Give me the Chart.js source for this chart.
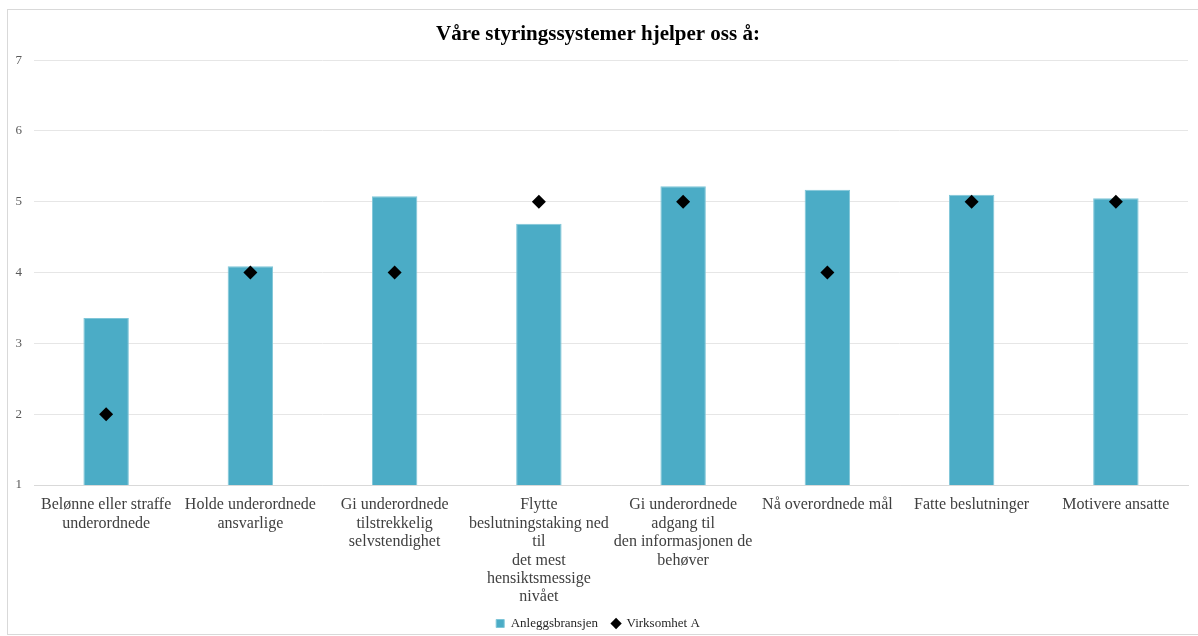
<!DOCTYPE html>
<html>
<head>
<meta charset="utf-8">
<script src="https://cdn.jsdelivr.net/npm/chart.js@4"></script>
<style>
  html, body { margin: 0; padding: 0; background: #fff; overflow: hidden; }
  #frame { position: absolute; left: 7px; top: 9px; width: 1195px; height: 626px; border: 1px solid #d9d9d9; border-right: none; box-sizing: border-box; }
  #wrap { position: absolute; left: 0; top: 0; width: 1192px; height: 630px; }
</style>
</head>
<body>
<div id="frame"><div id="wrap"><canvas id="c"></canvas></div></div>
<script>
const categories = [
  ["Belønne eller straffe", "underordnede"],
  ["Holde underordnede", "ansvarlige"],
  ["Gi underordnede", "tilstrekkelig", "selvstendighet"],
  ["Flytte", "beslutningstaking ned", "til", "det mest", "hensiktsmessige", "nivået"],
  ["Gi underordnede", "adgang til", "den informasjonen de", "behøver"],
  ["Nå overordnede mål"],
  ["Fatte beslutninger"],
  ["Motivere ansatte"]
];
const anleggsbransjen = [3.36, 4.09, 5.08, 4.69, 5.22, 5.17, 5.10, 5.05];
const virksomhetA = [2, 4, 4, 5, 5, 4, 5, 5];
const yTicks = [1, 2, 3, 4, 5, 6, 7];
const titleText = "Våre styringssystemer hjelper oss å:";
const seriesNames = ["Anleggsbransjen", "Virksomhet A"];

const serif = "'Liberation Serif', 'Times New Roman', serif";

new Chart(document.getElementById('c'), {
  type: 'bar',
  data: {
    labels: categories,
    datasets: [
      {
        type: 'bar',
        label: seriesNames[0],
        data: anleggsbransjen,
        backgroundColor: '#4BACC6',
        borderColor: '#7FC6D8',
        borderWidth: 1,
        categoryPercentage: 1,
        barPercentage: 0.315,
        order: 2,
        pointStyle: 'rect'
      },
      {
        type: 'line',
        label: seriesNames[1],
        data: virksomhetA,
        showLine: false,
        pointStyle: 'rectRot',
        pointRadius: 7,
        pointHoverRadius: 7,
        backgroundColor: '#000',
        borderColor: '#000',
        borderWidth: 0,
        order: 1
      }
    ]
  },
  options: {
    responsive: true,
    maintainAspectRatio: false,
    animation: false,
    layout: { padding: { left: 0, right: 12, top: 0, bottom: 0 } },
    plugins: {
      title: {
        display: true,
        text: titleText,
        color: '#000',
        font: { family: serif, size: 21, weight: 'bold' },
        padding: { top: 12, bottom: 13 }
      },
      legend: {
        position: 'bottom',
        labels: {
          usePointStyle: true,
          boxWidth: 8,
          boxHeight: 8,
          color: '#262626',
          font: { family: serif, size: 13 },
          padding: 14,
          sort: (a, b) => a.datasetIndex - b.datasetIndex
        }
      },
      tooltip: { enabled: false }
    },
    scales: {
      x: {
        grid: { display: false, drawTicks: false },
        border: { display: true, color: '#d9d9d9' },
        ticks: {
          color: '#404040',
          font: { family: serif, size: 16, lineHeight: 1.15 },
          maxRotation: 0,
          autoSkip: false,
          padding: 11
        },
        afterFit: (s) => { s.height = 118; }
      },
      y: {
        min: 1,
        max: 7,
        afterBuildTicks: (s) => { s.ticks = yTicks.map(v => ({ value: v })); },
        grid: { color: '#e6e6e6', drawTicks: false },
        border: { display: false },
        ticks: {
          color: '#595959',
          font: { family: serif, size: 13 },
          padding: 12
        },
        afterFit: (s) => { s.width = 26; }
      }
    }
  }
});
</script>
</body>
</html>
